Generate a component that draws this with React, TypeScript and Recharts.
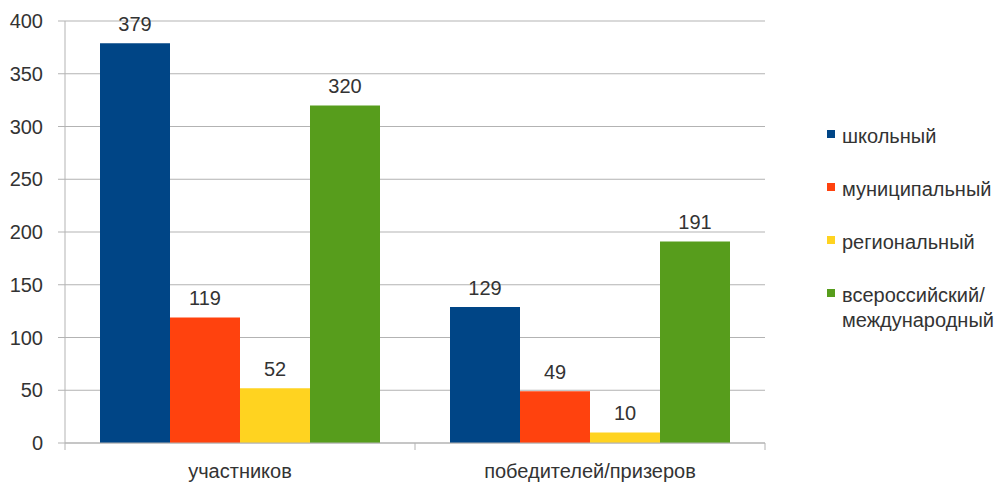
import React from 'react'
import {
	BarChart,
	Bar,
	XAxis,
	YAxis,
	CartesianGrid,
	LabelList,
} from 'recharts'

const categories = ['участников', 'победителей/призеров']
const school = [379, 129]
const municipal = [119, 49]
const regional = [52, 10]
const national = [320, 191]
const yTicks = [0, 50, 100, 150, 200, 250, 300, 350, 400]

const seriesNames = ['школьный', 'муниципальный', 'региональный', 'всероссийский/\nмеждународный']
const colors = ['#004586', '#ff420e', '#ffd320', '#579d1c']

const data = categories.map((c, i) => ({
	name: c,
	s0: school[i],
	s1: municipal[i],
	s2: regional[i],
	s3: national[i],
}))

const FONT = '"Liberation Sans", Arial, sans-serif'
const TEXT = '#333333'
const GRID = '#b3b3b3'
const HALF_BAND = 175

const CategoryTick = (props: any) => {
	const { x, y, payload, index } = props
	return (
		<g>
			<line x1={x - HALF_BAND} y1={y - 8} x2={x - HALF_BAND} y2={y - 1} stroke={GRID} />
			{index === categories.length - 1 && (
				<line x1={x + HALF_BAND} y1={y - 8} x2={x + HALF_BAND} y2={y - 1} stroke={GRID} />
			)}
			<text x={x} y={y + 27} textAnchor="middle" fontSize={20} fill={TEXT} fontFamily={FONT}>
				{payload.value}
			</text>
		</g>
	)
}

// legend drawn beside the chart
const ChartLegend = () => (
	<svg
		width={200}
		height={240}
		style={{ position: 'absolute', left: 815, top: 110 }}
		fontFamily={FONT}
		fontSize={20}
	>
		{seriesNames.map((n, i) => {
			const lines = n.split('\n')
			return (
				<g key={n}>
					<rect x={12} y={20 + i * 53} width={8} height={8} fill={colors[i]} />
					<text x={27} y={33 + i * 53} fill={TEXT}>
						{lines.map((l, j) => (
							<tspan key={l} x={27} dy={j === 0 ? 0 : 25}>
								{l}
							</tspan>
						))}
					</text>
				</g>
			)
		})}
	</svg>
)

const App = () => {
	return (
		<div style={{ position: 'absolute', left: 0, top: 0, width: 1005, height: 483, background: '#fff' }}>
			<BarChart
				width={1005}
				height={483}
				data={data}
				margin={{ top: 21, right: 240, left: 0, bottom: 0 }}
				barCategoryGap="10%"
				barGap={0}
			>
				<CartesianGrid horizontal={true} vertical={false} stroke={GRID} />
				<XAxis
					dataKey="name"
					height={40}
					axisLine={{ stroke: GRID }}
					tickLine={false}
					tick={<CategoryTick />}
					interval={0}
				/>
				<YAxis
					width={65}
					domain={[0, 400]}
					ticks={yTicks}
					axisLine={{ stroke: GRID }}
					tickLine={{ stroke: GRID }}
					tickSize={7}
					tickMargin={15}
					tick={{ fontSize: 20, fill: TEXT, fontFamily: FONT }}
				/>
				{['s0', 's1', 's2', 's3'].map((k, i) => (
					<Bar key={k} dataKey={k} name={seriesNames[i]} fill={colors[i]} isAnimationActive={false}>
						<LabelList
							dataKey={k}
							position="top"
							offset={12}
							fontSize={20}
							fill={TEXT}
							fontFamily={FONT}
						/>
					</Bar>
				))}
			</BarChart>
			<ChartLegend />
		</div>
	)
}

export default App
